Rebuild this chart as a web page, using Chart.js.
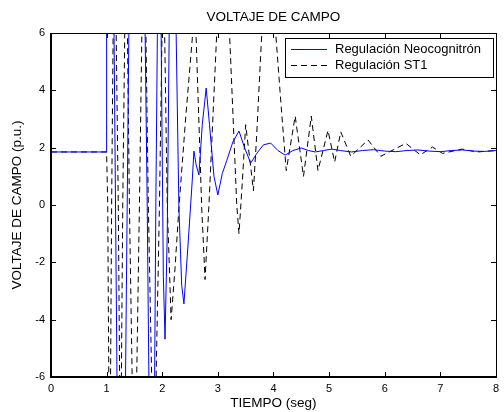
<!DOCTYPE html>
<html>
<head>
<meta charset="utf-8">
<script src="https://cdn.jsdelivr.net/npm/chart.js@4"></script>
<style>
html,body{margin:0;padding:0;background:#fff;}
#wrap{width:504px;height:412px;position:relative;}
</style>
</head>
<body>
<div id="wrap"><canvas id="c" width="504" height="412"></canvas></div>
<script>
const chartTitle = "VOLTAJE DE CAMPO";
const xAxisTitle = "TIEMPO (seg)";
const yAxisTitle = "VOLTAJE DE CAMPO (p.u.)";
const seriesNames = ["Regulación Neocognitrón", "Regulación ST1"];
const xTicks = [0, 1, 2, 3, 4, 5, 6, 7, 8];
const yTicks = [-6, -4, -2, 0, 2, 4, 6];

// Regulación Neocognitrón (blue, solid)
const neoX = [0, 0.99, 1.0, 1.05, 1.12, 1.16, 1.2, 1.27, 1.33, 1.37, 1.41, 1.55, 1.68, 1.73, 1.77, 1.815, 1.86, 1.885, 1.915, 1.955, 1.98, 2.02, 2.05, 2.09, 2.125, 2.19, 2.25, 2.30, 2.35, 2.39, 2.46, 2.54, 2.57, 2.61, 2.66, 2.72, 2.79, 2.85, 2.93, 3.0, 3.08, 3.16, 3.27, 3.38, 3.48, 3.59, 3.7, 3.82, 3.95, 4.08, 4.21, 4.35, 4.5, 4.63, 4.75, 4.9, 5.05, 5.2, 5.4, 5.6, 5.8, 6.0, 6.2, 6.4, 6.6, 6.8, 7.0, 7.2, 7.4, 7.6, 7.8, 8.0];
const neoY = [1.85, 1.85, 8, 14, 9, 0, -9, -14, -8, 0, 8, 13, 8, 0, -8, -11, -7, 0, 6.5, 8, 6, -2.5, -4.68, -1, 6, 8, 6, -0.1, -2.8, -3.45, -1.5, 0.87, 1.88, 1.4, 1.05, 2.8, 4.08, 2.8, 1.0, 0.35, 1.1, 1.55, 2.2, 2.58, 2.0, 1.46, 1.8, 2.1, 2.16, 1.9, 1.74, 1.9, 1.99, 1.9, 1.85, 1.9, 1.95, 1.9, 1.85, 1.9, 1.93, 1.88, 1.86, 1.9, 1.92, 1.88, 1.86, 1.9, 1.92, 1.88, 1.87, 1.9];

// Regulación ST1 (black, dashed)
const st1X = [0, 1.0, 1.02, 1.055, 1.09, 1.14, 1.21, 1.25, 1.29, 1.35, 1.41, 1.5, 1.59, 1.67, 1.75, 1.85, 1.95, 2.02, 2.09, 2.16, 2.23, 2.30, 2.42, 2.54, 2.57, 2.61, 2.71, 2.77, 2.84, 2.98, 3.1, 3.21, 3.34, 3.38, 3.44, 3.5, 3.58, 3.64, 3.7, 3.79, 3.91, 4.04, 4.14, 4.23, 4.39, 4.54, 4.68, 4.8, 4.98, 5.1, 5.21, 5.39, 5.7, 5.93, 6.38, 6.64, 6.86, 7.04, 7.39, 7.66, 8.0];
const st1Y = [1.85, 1.85, 0, -11, 0, 11, 0, -10, 0, 10, 0, -11, 0, 11, 0, -10, 0, 9, 0, -4.0, -2.2, -0.1, 3.0, 5.8, 6.8, 5.8, -0.1, -2.6, 0, 6, 8, 6, 0, -1.0, 0.8, 2.8, 1.5, 0.5, 2.5, 6, 7.5, 6, 3.4, 1.2, 3.1, 1.0, 3.1, 1.2, 2.6, 1.5, 2.55, 1.7, 2.27, 1.7, 2.15, 1.75, 2.02, 1.8, 1.95, 1.85, 1.9];

const FONT = "'Liberation Sans', Arial, Helvetica, sans-serif";
const TITLE_SIZE = 13.5;
const toPts = (xs, ys) => xs.map((x, i) => ({x: x, y: ys[i]}));

const framePlugin = {
  id: 'framePlugin',
  afterDraw(chart) {
    const ctx = chart.ctx;
    const a = chart.chartArea;
    const xs = chart.scales.x, ys = chart.scales.y;
    const L = Math.round(a.left), R = Math.round(a.right);
    const T = Math.round(a.top), B = Math.round(a.bottom);
    ctx.save();
    ctx.setLineDash([]);
    ctx.strokeStyle = '#000';
    // top & right: thin
    ctx.lineWidth = 1;
    ctx.beginPath();
    ctx.moveTo(L, T + 0.5); ctx.lineTo(R + 1, T + 0.5);
    ctx.moveTo(R + 0.5, T); ctx.lineTo(R + 0.5, B);
    ctx.stroke();
    // left & bottom: heavier
    ctx.lineWidth = 2;
    ctx.beginPath();
    ctx.moveTo(L, T); ctx.lineTo(L, B + 1);
    ctx.moveTo(L - 1, B); ctx.lineTo(R + 1, B);
    ctx.stroke();
    // inward ticks on all four sides
    ctx.lineWidth = 1;
    ctx.beginPath();
    const tl = 5;
    xTicks.forEach(v => {
      const px = Math.round(xs.getPixelForValue(v)) + 0.5;
      ctx.moveTo(px, B); ctx.lineTo(px, B - tl);
      ctx.moveTo(px, T); ctx.lineTo(px, T + tl);
    });
    yTicks.forEach(v => {
      const py = Math.round(ys.getPixelForValue(v)) + 0.5;
      ctx.moveTo(L, py); ctx.lineTo(L + tl, py);
      ctx.moveTo(R, py); ctx.lineTo(R - tl, py);
    });
    ctx.stroke();

    // title
    ctx.fillStyle = '#000';
    ctx.font = TITLE_SIZE + 'px ' + FONT;
    ctx.textAlign = 'center';
    ctx.textBaseline = 'middle';
    ctx.fillText(chartTitle, (a.left + a.right) / 2, 17);

    // legend box
    const bx = 285.5, by = 38.5, bw = 208, bh = 39;
    ctx.fillStyle = '#fff';
    ctx.fillRect(bx, by, bw, bh);
    ctx.strokeStyle = '#000';
    ctx.lineWidth = 1;
    ctx.strokeRect(bx, by, bw, bh);
    const ds = chart.data.datasets;
    const rows = [49.5, 65.5];
    ds.forEach((d, i) => {
      ctx.beginPath();
      ctx.strokeStyle = d.borderColor;
      ctx.lineWidth = 1;
      ctx.setLineDash(d.borderDash || []);
      ctx.moveTo(291, rows[i]);
      ctx.lineTo(327, rows[i]);
      ctx.stroke();
      ctx.setLineDash([]);
      ctx.fillStyle = '#000';
      ctx.textAlign = 'left';
      ctx.textBaseline = 'middle';
      ctx.font = '13px ' + FONT;
      ctx.fillText(d.label, 335, rows[i]);
    });
    ctx.restore();
  }
};

new Chart(document.getElementById('c'), {
  type: 'line',
  data: {
    datasets: [
      {
        label: seriesNames[0],
        data: toPts(neoX, neoY),
        borderColor: '#0000ff',
        borderWidth: 1,
        pointRadius: 0,
        tension: 0,
        fill: false
      },
      {
        label: seriesNames[1],
        data: toPts(st1X, st1Y),
        borderColor: '#000000',
        borderWidth: 1,
        borderDash: [6, 4],
        pointRadius: 0,
        tension: 0,
        fill: false
      }
    ]
  },
  options: {
    responsive: false,
    animation: false,
    devicePixelRatio: 1,
    layout: { padding: { top: 33, right: 5, left: 0, bottom: 0 } },
    plugins: {
      legend: { display: false },
      title: { display: false },
      tooltip: { enabled: false }
    },
    scales: {
      x: {
        type: 'linear',
        min: 0, max: 8,
        afterBuildTicks: s => { s.ticks = xTicks.map(v => ({value: v})); },
        afterFit: s => { s.height = 35; },
        grid: { display: false, drawTicks: false },
        border: { display: false },
        ticks: { color: '#000', font: { family: FONT, size: 11 }, padding: 5, maxRotation: 0, autoSkip: false },
        title: { display: true, text: xAxisTitle, color: '#000', font: { family: FONT, size: TITLE_SIZE }, padding: { top: 0, bottom: 1 } }
      },
      y: {
        type: 'linear',
        min: -6, max: 6,
        afterBuildTicks: s => { s.ticks = yTicks.map(v => ({value: v})); },
        afterFit: s => { s.width = 51; },
        grid: { display: false, drawTicks: false },
        border: { display: false },
        ticks: { color: '#000', font: { family: FONT, size: 11 }, padding: 6, autoSkip: false },
        title: { display: true, text: yAxisTitle, color: '#000', font: { family: FONT, size: TITLE_SIZE }, padding: { top: 9, bottom: 0 } }
      }
    }
  },
  plugins: [framePlugin]
});
</script>
</body>
</html>
